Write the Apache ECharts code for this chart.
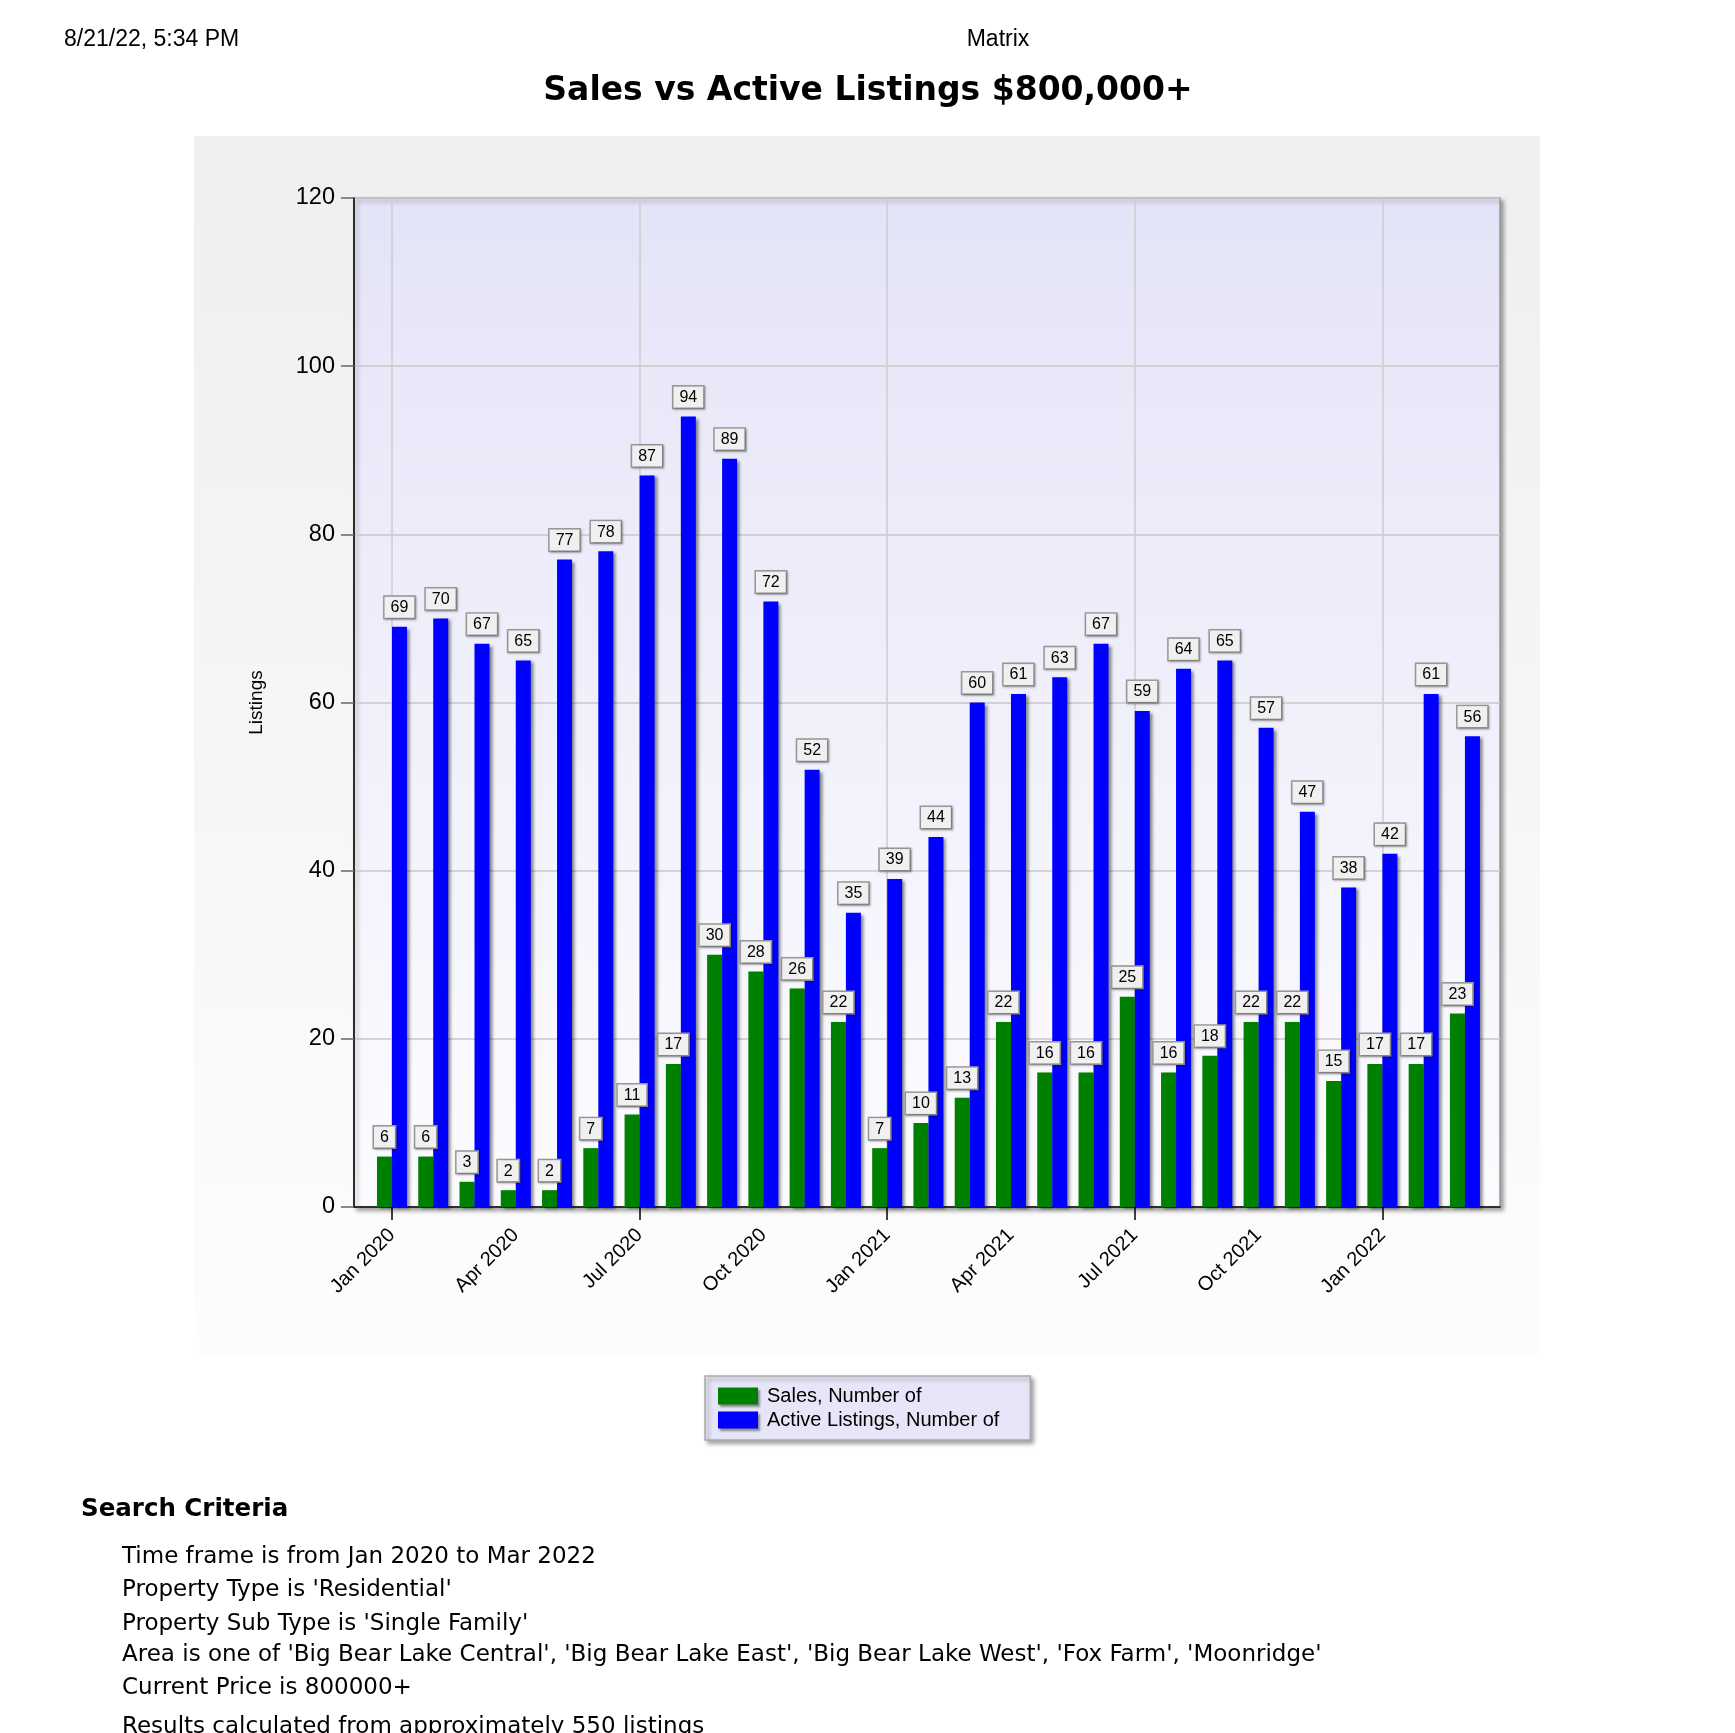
<!DOCTYPE html>
<html><head><meta charset="utf-8">
<script src="https://cdn.jsdelivr.net/npm/echarts@6/dist/echarts.min.js"></script>
<style>html,body{margin:0;padding:0;background:#fff}#c{width:1735px;height:1733px}</style>
</head><body><div id="c"></div>
<script>
const months = ['Jan 2020','Feb 2020','Mar 2020','Apr 2020','May 2020','Jun 2020','Jul 2020','Aug 2020','Sep 2020','Oct 2020','Nov 2020','Dec 2020',
  'Jan 2021','Feb 2021','Mar 2021','Apr 2021','May 2021','Jun 2021','Jul 2021','Aug 2021','Sep 2021','Oct 2021','Nov 2021','Dec 2021',
  'Jan 2022','Feb 2022','Mar 2022'];
const sales  = [6,6,3,2,2,7,11,17,30,28,26,22, 7,10,13,22,16,16,25,16,18,22,22,15, 17,17,23];
const active = [69,70,67,65,77,78,87,94,89,72,52,35, 39,44,60,61,63,67,59,64,65,57,47,38, 42,61,56];
const seriesNames = ['Sales, Number of','Active Listings, Number of'];
const headerLeft = '8/21/22, 5:34 PM';
const headerCenter = 'Matrix';
const titleText = 'Sales vs Active Listings $800,000+';
const criteriaTitle = 'Search Criteria';
const criteria = [
  "Time frame is from Jan 2020 to Mar 2022",
  "Property Type is 'Residential'",
  "Property Sub Type is 'Single Family'",
  "Area is one of 'Big Bear Lake Central', 'Big Bear Lake East', 'Big Bear Lake West', 'Fox Farm', 'Moonridge'",
  "Current Price is 800000+"
];
const resultsLine = 'Results calculated from approximately 550 listings';

const idx = months.map((m, i) => i);
const labelIdx = idx.filter(i => i % 3 === 0);
const tickIdx = idx.filter(i => i % 6 === 0);

const AR = 'Liberation Sans, Arial, sans-serif';
const VD = 'DejaVu Sans, Verdana, sans-serif';

const chart = echarts.init(document.getElementById('c'));

const labelStyle = {
  show: true, position: 'top', distance: 9,
  fontFamily: AR, fontSize: 16, color: '#000',
  backgroundColor: '#f0f0f0', borderColor: '#999', borderWidth: 1.5,
  padding: [3, 6, 2, 6],
  shadowColor: 'rgba(0,0,0,0.25)', shadowBlur: 2, shadowOffsetX: 1, shadowOffsetY: 1
};
const barShadow = { shadowColor: 'rgba(0,0,0,0.45)', shadowBlur: 3, shadowOffsetX: 3, shadowOffsetY: 2 };

const criteriaY = [1557, 1590, 1624, 1655, 1688];
const graphics = [
  { type: 'rect', z: -100, silent: true, shape: { x: 194, y: 136, width: 1346, height: 1221 },
    style: { fill: new echarts.graphic.LinearGradient(0, 0, 0, 1, [{offset: 0, color: '#efefef'}, {offset: 1, color: '#fdfdfd'}]) } },
  { type: 'text', x: 64, y: 40, style: { text: headerLeft, font: '23px ' + AR, fill: '#000', textVerticalAlign: 'middle' } },
  { type: 'text', x: 998, y: 40, style: { text: headerCenter, font: '23px ' + AR, fill: '#000', textAlign: 'center', textVerticalAlign: 'middle' } },
  { type: 'text', x: 868, y: 91, style: { text: titleText, font: 'bold 33px ' + VD, fill: '#000', textAlign: 'center', textVerticalAlign: 'middle' } },
  { type: 'text', x: 81, y: 1510, style: { text: criteriaTitle, font: 'bold 24.5px ' + VD, fill: '#000', textVerticalAlign: 'middle' } }
];
criteria.forEach((t, i) => graphics.push({ type: 'text', x: 122, y: criteriaY[i], style: { text: t, font: '23px ' + VD, fill: '#000', textVerticalAlign: 'middle' } }));
graphics.push({ type: 'text', x: 122, y: 1727, style: { text: resultsLine, font: '23px ' + VD, fill: '#000', textVerticalAlign: 'middle' } });

chart.setOption({
  animation: false,
  backgroundColor: '#fff',
  graphic: graphics,
  grid: {
    left: 354, top: 198, right: 235, bottom: 526, containLabel: false,
    show: true,
    backgroundColor: new echarts.graphic.LinearGradient(0, 0, 0, 1, [{offset: 0, color: '#e4e4f8'}, {offset: 1, color: '#fcfcff'}]),
    borderColor: '#999', borderWidth: 1.5,
    shadowColor: 'rgba(0,0,0,0.35)', shadowBlur: 4, shadowOffsetX: 3, shadowOffsetY: 3
  },
  legend: {
    left: 705, top: 1376, orient: 'vertical',
    data: seriesNames,
    itemWidth: 40, itemHeight: 17, itemGap: 4,
    icon: 'rect',
    padding: [10, 31, 10, 13],
    backgroundColor: '#e6e6f8', borderColor: '#aaa', borderWidth: 1.5,
    shadowColor: 'rgba(0,0,0,0.35)', shadowBlur: 4, shadowOffsetX: 3, shadowOffsetY: 3,
    itemStyle: { shadowColor: 'rgba(0,0,0,0.4)', shadowBlur: 2, shadowOffsetX: 2, shadowOffsetY: 2 },
    textStyle: { fontFamily: AR, fontSize: 20, color: '#000', padding: [0, 0, 0, 4] }
  },
  xAxis: {
    type: 'value', min: -0.92, max: 26.85,
    axisLine: { show: true, onZero: false, lineStyle: { color: '#000', width: 1.5 } },
    axisTick: { show: true, customValues: tickIdx, length: 13, lineStyle: { color: '#000', width: 1.5 } },
    axisLabel: { show: true, customValues: labelIdx, rotate: 45, margin: 25, fontFamily: AR, fontSize: 20, color: '#000',
      formatter: v => months[Math.round(v)] || '' },
    splitLine: { show: true, lineStyle: { color: '#cccccc', width: 1.5 } }
  },
  yAxis: {
    type: 'value', min: 0, max: 120, interval: 20,
    name: 'Listings', nameLocation: 'middle', nameGap: 88, nameRotate: 90,
    nameTextStyle: { fontFamily: AR, fontSize: 19, color: '#000' },
    axisLine: { show: true, onZero: false, lineStyle: { color: '#000', width: 1.5 } },
    axisTick: { show: true, length: 13, lineStyle: { color: '#666', width: 1.5 } },
    axisLabel: { fontFamily: AR, fontSize: 23.5, color: '#000', margin: 19 },
    splitLine: { show: true, lineStyle: { color: '#c8c8c8', width: 1.5 } }
  },
  series: [
    { name: seriesNames[0], type: 'bar', barWidth: 15, barGap: '0%',
      itemStyle: Object.assign({ color: '#008000' }, barShadow),
      label: labelStyle,
      data: sales.map((v, i) => [i, v]) },
    { name: seriesNames[1], type: 'bar', barWidth: 15, barGap: '0%',
      itemStyle: Object.assign({ color: '#0000ff' }, barShadow),
      label: labelStyle,
      data: active.map((v, i) => [i, v]) }
  ]
});
</script></body></html>
